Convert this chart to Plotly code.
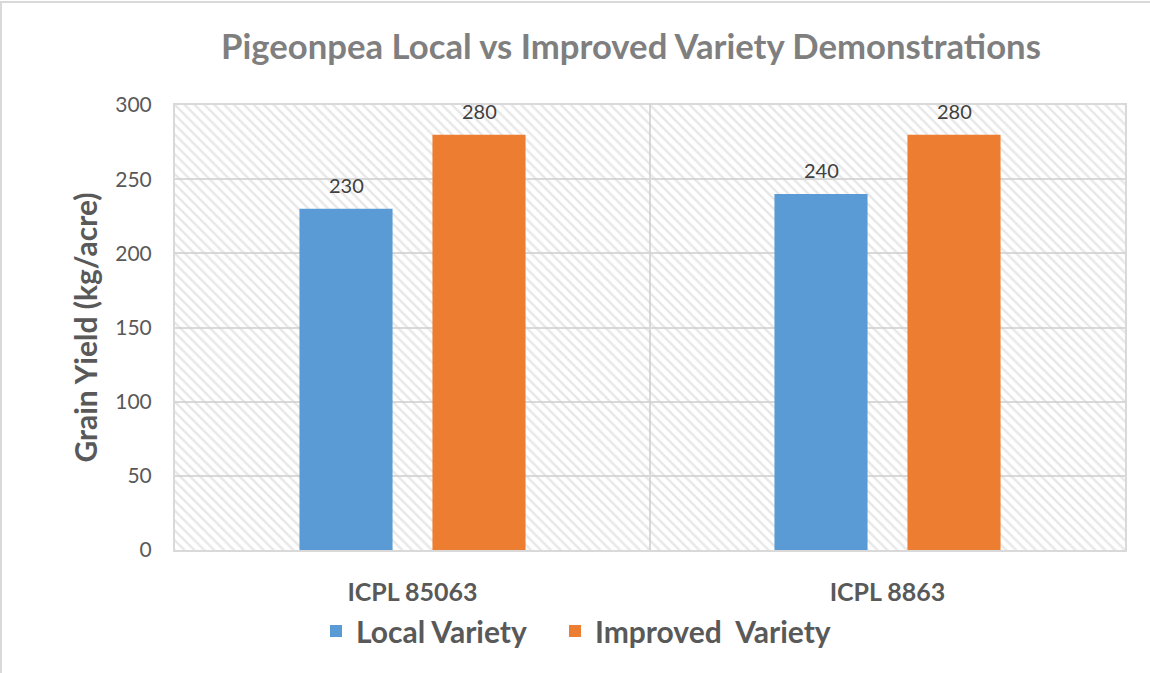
import plotly.graph_objects as go

categories = ["ICPL 85063", "ICPL 8863"]
local_variety = [230, 240]
improved_variety = [280, 280]
series_names = ["Local Variety", "Improved\u00a0 Variety"]
y_ticks = [0, 50, 100, 150, 200, 250, 300]

title_text = "Pigeonpea Local vs Improved Variety Demonstrations"
y_title = "Grain Yield (kg/acre)"

FONT = "Lato"
W, H = 1150, 673
ML, MR, MT, MB = 175, 25, 105, 123
PW, PH = W - ML - MR, H - MT - MB
BARGAP, BARGROUPGAP = 0.44, 0.30

px2x = lambda p: (p - ML) / PW
py2y = lambda p: (H - MB - p) / PH

fig = go.Figure()

# hatched plot-area background (on main axes, drawn under the bars)
ymax = y_ticks[-1]
fig.add_trace(go.Scatter(
    x=[0, 1, 1, 0, 0], y=[0, 0, ymax, ymax, 0],
    xaxis="x", yaxis="y", mode="lines", line=dict(width=0),
    fill="toself", fillcolor="rgba(0,0,0,0)",
    fillpattern=dict(shape="\\", fgcolor="#d0d0d0", bgcolor="rgba(0,0,0,0)",
                     size=7, solidity=0.35),
    hoverinfo="skip", showlegend=False))

series = [(series_names[0], local_variety, "#5B9BD5", "legend"),
          (series_names[1], improved_variety, "#ED7D31", "legend2")]
for name, vals, col, lg in series:
    fig.add_trace(go.Bar(
        x=categories, y=vals, name=f"<b>{name}</b>",
        marker=dict(color=col, line=dict(width=0)),
        xaxis="x2", yaxis="y2", legend=lg))

# value labels above bars
slot = (1 - BARGAP) / len(series)
annotations = []
for si, (name, vals, col, lg) in enumerate(series):
    off = -(1 - BARGAP) / 2 + slot * (si + 0.5)
    for ci, v in enumerate(vals):
        annotations.append(dict(
            x=ci + off, y=v, xref="x2", yref="y2", text=str(v),
            showarrow=False, yanchor="middle", yshift=24,
            font=dict(family=FONT, size=20, color="#404040")))

legend_style = dict(orientation="h", xanchor="left", y=py2y(631), yanchor="middle",
                    font=dict(family=FONT, size=30, color="#595959"),
                    itemwidth=30, bgcolor="rgba(0,0,0,0)")

fig.update_layout(
    width=W, height=H,
    margin=dict(l=ML, r=MR, t=MT, b=MB),
    paper_bgcolor="white", plot_bgcolor="white",
    barmode="group", bargap=BARGAP, bargroupgap=BARGROUPGAP,
    title=dict(text=f"<b>{title_text}</b>", x=631 / W, xanchor="center",
               y=1 - 47 / H, yanchor="middle",
               font=dict(family=FONT, size=34.7, color="#7f7f7f")),
    xaxis=dict(range=[0, 1], tickvals=[0.5], showticklabels=False,
               showgrid=True, gridcolor="#d9d9d9", gridwidth=2,
               showline=True, mirror=True, linecolor="#d9d9d9", linewidth=2,
               zeroline=False, fixedrange=True),
    yaxis=dict(range=[0, ymax], tickvals=y_ticks,
               showgrid=True, gridcolor="#d9d9d9", gridwidth=2,
               showline=True, mirror=True, linecolor="#d9d9d9", linewidth=2,
               zeroline=False, ticks="", ticklabelstandoff=17,
               tickfont=dict(family=FONT, size=21, color="#595959"),
               title=dict(text=f"<b>{y_title}</b>", standoff=9,
                          font=dict(family=FONT, size=30, color="#595959"))),
    xaxis2=dict(overlaying="x", type="category", showgrid=False,
                showline=False, zeroline=False, ticks="",
                ticklabelstandoff=25,
                tickfont=dict(family=FONT, size=25, color="#595959"),
                tickprefix="<b>", ticksuffix="</b>"),
    yaxis2=dict(overlaying="y", range=[0, ymax], showgrid=False,
                showticklabels=False, showline=False, zeroline=False),
    legend=dict(x=px2x(316), **legend_style),
    legend2=dict(x=px2x(555), **legend_style),
    annotations=annotations,
    shapes=[dict(type="rect", xref="paper", yref="paper",
                 x0=px2x(1), x1=px2x(W + 10), y0=py2y(H + 10), y1=py2y(2),
                 line=dict(color="#d9d9d9", width=2), fillcolor="rgba(0,0,0,0)")],
)

fig.write_html("out.html", config={"displayModeBar": False},
               post_script="document.body.style.margin='0';")
